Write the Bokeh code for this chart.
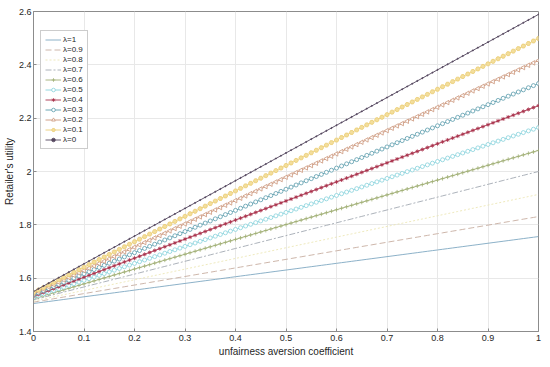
import numpy as np
from bokeh.plotting import figure
from bokeh.models import Legend, FixedTicker, Range1d
from bokeh.embed import file_html
from bokeh.resources import INLINE

# Data
lambda_labels = ["λ=1", "λ=0.9", "λ=0.8", "λ=0.7", "λ=0.6", "λ=0.5",
                 "λ=0.4", "λ=0.3", "λ=0.2", "λ=0.1", "λ=0"]
utility_at_0 = [1.505, 1.510, 1.514, 1.519, 1.523, 1.528, 1.532, 1.537, 1.541, 1.546, 1.550]
utility_at_1 = [1.756, 1.831, 1.914, 2.000, 2.079, 2.165, 2.247, 2.330, 2.416, 2.499, 2.589]
coef_grid = np.round(np.arange(0, 1.0001, 0.01), 2)
x_ticks = [0, 0.1, 0.2, 0.3, 0.4, 0.5, 0.6, 0.7, 0.8, 0.9, 1]
y_ticks = [1.4, 1.6, 1.8, 2.0, 2.2, 2.4, 2.6]

styles = [
    dict(color="#7fa8c2", dash="solid", marker=None),
    dict(color="#c7aea0", dash="6 3", marker=None),
    dict(color="#ece6b4", dash="2 2", marker=None),
    dict(color="#a3a9b2", dash="6 2 2 2", marker=None),
    dict(color="#a0ae74", dash="solid", marker="cross", fill=None, size=4),
    dict(color="#86d2dc", dash="solid", marker="circle", fill="white", size=4),
    dict(color="#a8304a", dash="solid", marker="asterisk", fill=None, size=4),
    dict(color="#5a9cac", dash="solid", marker="circle", fill="white", size=4),
    dict(color="#cc957a", dash="solid", marker="triangle", fill="white", size=4.5, angle=np.pi / 2),
    dict(color="#ebcd74", dash="solid", marker="hex", fill="#f3de9c", size=4.5),
    dict(color="#54465e", dash="solid", marker="circle", fill="#54465e", size=1.2),
]

p = figure(frame_width=505, frame_height=320, output_backend="svg", toolbar_location=None,
           x_range=Range1d(0, 1), y_range=Range1d(1.4, 2.6),
           min_border_left=2, min_border_right=4, min_border_top=11, min_border_bottom=2)

font = "Liberation Sans"
for ax in (p.xaxis[0], p.yaxis[0]):
    ax.major_tick_in = 3
    ax.major_tick_out = 0
    ax.minor_tick_in = 0
    ax.minor_tick_out = 0
    ax.axis_line_color = "#8c8c8c"
    ax.major_tick_line_color = "#8c8c8c"
    ax.major_label_text_font = font
    ax.major_label_text_font_size = "9px"
    ax.major_label_text_color = "#262626"
    ax.axis_label_text_font = font
    ax.axis_label_text_font_size = "10px"
    ax.axis_label_text_font_style = "normal"
    ax.axis_label_text_color = "#262626"
    ax.major_label_standoff = 3
    ax.axis_label_standoff = 2
p.yaxis.major_label_standoff = 2
p.yaxis.axis_label_standoff = 1

p.xaxis.ticker = FixedTicker(ticks=x_ticks)
p.yaxis.ticker = FixedTicker(ticks=y_ticks)
p.yaxis.major_label_overrides = {1.4: "1.4", 1.6: "1.6", 1.8: "1.8", 2.0: "2", 2.2: "2.2", 2.4: "2.4", 2.6: "2.6"}
p.xaxis.major_label_overrides = {0: "0", 1: "1"}
p.xaxis.axis_label = "unfairness aversion coefficient"
p.yaxis.axis_label = "Retailer's utility"

p.xgrid.ticker = FixedTicker(ticks=x_ticks)
p.ygrid.ticker = FixedTicker(ticks=y_ticks)
p.grid.grid_line_color = "#e8e8e8"
p.outline_line_color = "#8c8c8c"

legend_items = []
for lab, y0, y1, st in zip(lambda_labels, utility_at_0, utility_at_1, styles):
    ys = y0 + (y1 - y0) * coef_grid
    rends = []
    r = p.line(coef_grid, ys, line_color=st["color"], line_width=0.9, line_dash=st["dash"])
    rends.append(r)
    if st["marker"]:
        s = p.scatter(coef_grid, ys, marker=st["marker"], size=st["size"],
                      line_color=st["color"], fill_color=st["fill"] if st["fill"] else st["color"],
                      fill_alpha=1 if st["fill"] else 0, line_width=0.8,
                      angle=st.get("angle", 0))
        rends.append(s)
    legend_items.append((lab, rends))

legend = Legend(items=legend_items, location=(7, 182))
legend.label_text_font = font
legend.label_text_font_size = "8px"
legend.label_text_color = "#262626"
legend.glyph_width = 16
legend.glyph_height = 9
legend.label_height = 9
legend.spacing = 1
legend.padding = 4
legend.margin = 0
legend.label_standoff = 2
legend.border_line_color = "#9a9a9a"
legend.background_fill_alpha = 1
p.add_layout(legend)

open("out.html", "w").write(file_html(p, INLINE))
